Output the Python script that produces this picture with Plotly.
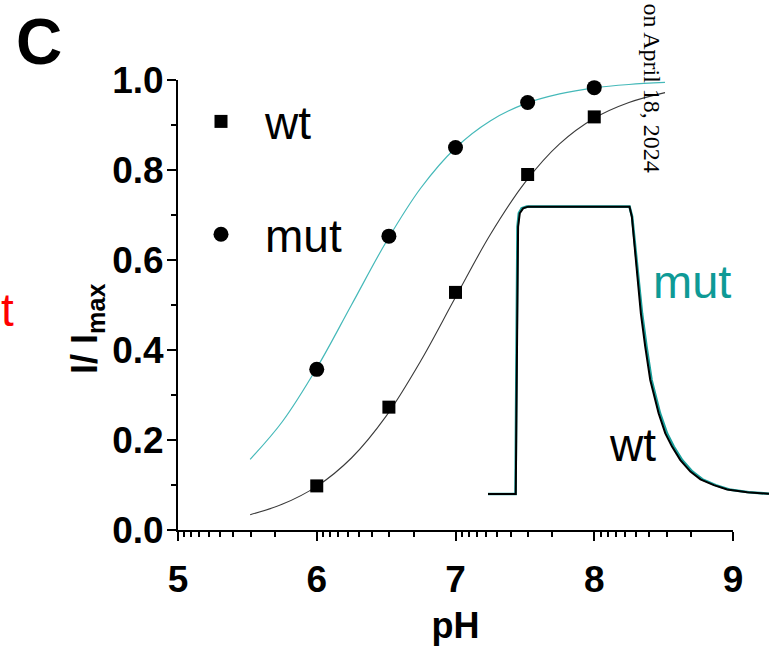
import math
import plotly.graph_objects as go

# ---- data ----
ph_points = [6.0, 6.52, 7.0, 7.52, 8.0]
wt_values = [0.098, 0.273, 0.528, 0.790, 0.918]
mut_values = [0.357, 0.653, 0.850, 0.950, 0.983]

ph_curve = [5.52, 5.75, 6.0, 6.25, 6.5, 6.75, 7.0, 7.25, 7.5, 7.75, 8.0, 8.25, 8.51]
wt_curve = [0.034, 0.057, 0.097, 0.160, 0.253, 0.376, 0.517, 0.656, 0.772, 0.858, 0.915, 0.950, 0.972]
mut_curve = [0.157, 0.240, 0.360, 0.500, 0.640, 0.760, 0.849, 0.909, 0.947, 0.969, 0.9825, 0.990, 0.9945]

# inset current traces (time in arbitrary units, current normalised to plateau)
trace_t_wt = [0, 9.88, 10.12, 10.36, 10.71, 11.31, 12.5, 14.29, 50.36, 51.19, 52.02, 53.21, 54.40,
              55.95, 57.74, 60.71, 63.10, 65.48, 68.45, 72.02, 75.60, 80.36, 85.12, 92.26, 100]
trace_i_wt = [0, 0, 0.281, 0.745, 0.930, 0.977, 0.994, 1.0, 1.0, 0.965, 0.884, 0.745, 0.629,
              0.513, 0.397, 0.281, 0.211, 0.165, 0.118, 0.078, 0.051, 0.031, 0.016, 0.006, 0.001]
trace_t_mut = [0, 9.80, 10.00, 10.20, 10.50, 11.00, 12.0, 13.8, 50.36, 51.3, 52.2, 53.5, 54.8,
               56.4, 58.2, 61.2, 63.7, 66.1, 69.1, 72.7, 76.3, 81.0, 85.8, 92.8, 100]
trace_i_mut = [0, 0, 0.281, 0.745, 0.930, 0.977, 0.994, 1.0, 1.0, 0.965, 0.884, 0.745, 0.629,
               0.513, 0.397, 0.281, 0.211, 0.165, 0.118, 0.078, 0.051, 0.031, 0.016, 0.006, 0.001]

y_ticks = [0.0, 0.2, 0.4, 0.6, 0.8, 1.0]
y_ticklabels = ["0.0", "0.2", "0.4", "0.6", "0.8", "1.0"]
x_ticks = [5, 6, 7, 8, 9]
x_minor = [n + 1 - math.log10(k) for n in range(5, 9) for k in range(2, 10)]

TEAL_LINE = "#45B9B9"
TEAL_TRACE = "#1AA09C"
TEAL_TEXT = "#0E9A96"
FONT = "Liberation Sans"

fig = go.Figure()

# fitted curves
fig.add_trace(go.Scatter(x=ph_curve, y=mut_curve, mode="lines", line=dict(color=TEAL_LINE, width=1.2, shape="spline"),
                         showlegend=False, hoverinfo="skip"))
fig.add_trace(go.Scatter(x=ph_curve, y=wt_curve, mode="lines", line=dict(color="#3a3a3a", width=1.1, shape="spline"),
                         showlegend=False, hoverinfo="skip"))
# data points
fig.add_trace(go.Scatter(x=ph_points, y=wt_values, mode="markers", name="wt", legendgroup="a",
                         marker=dict(symbol="square", size=13, color="black"), cliponaxis=False))
fig.add_trace(go.Scatter(x=ph_points, y=mut_values, mode="markers", name="mut", legendgroup="b",
                         marker=dict(symbol="circle", size=15, color="black"), cliponaxis=False))

# inset traces
fig.add_trace(go.Scatter(x=trace_t_mut, y=trace_i_mut, mode="lines", xaxis="x2", yaxis="y2",
                         line=dict(color=TEAL_TRACE, width=2.6), showlegend=False, hoverinfo="skip"))
fig.add_trace(go.Scatter(x=trace_t_wt, y=trace_i_wt, mode="lines", xaxis="x2", yaxis="y2",
                         line=dict(color="black", width=2.0), showlegend=False, hoverinfo="skip"))

tickfont = dict(family=FONT, size=37, color="black", weight="bold")

fig.update_layout(
    width=769, height=646,
    margin=dict(l=178, r=0, t=80, b=116, autoexpand=False),
    paper_bgcolor="white", plot_bgcolor="rgba(0,0,0,0)",
    showlegend=True,
    legend=dict(x=(177 - 178) / 591, y=(530 - 85) / 450, xanchor="left", yanchor="top",
                font=dict(family=FONT, size=46, color="black"),
                bgcolor="rgba(0,0,0,0)", tracegroupgap=50, itemwidth=78),
    xaxis=dict(domain=[0, 555 / 591], range=[5, 9], tickmode="array", tickvals=x_ticks,
               ticks="outside", ticklen=9, tickwidth=2, tickcolor="black", automargin=False,
               showline=True, linewidth=2, linecolor="black", showgrid=False, zeroline=False,
               tickfont=tickfont, ticklabelstandoff=7,
               minor=dict(tickmode="array", tickvals=x_minor, ticks="outside", ticklen=5, tickwidth=1.5,
                          tickcolor="black", showgrid=False),
               title=dict(text="pH", font=dict(family=FONT, size=36, color="black", weight="bold"), standoff=14)),
    yaxis=dict(domain=[0, 1], range=[0, 1.0], tickmode="array", tickvals=y_ticks, ticktext=y_ticklabels,
               ticks="outside", ticklen=9, tickwidth=2, tickcolor="black", automargin=False,
               showline=True, linewidth=2, linecolor="black", showgrid=False, zeroline=False,
               tickfont=tickfont, ticklabelstandoff=-4,
               minor=dict(dtick=0.1, tick0=0, ticks="outside", ticklen=5, tickwidth=1.5, tickcolor="black",
                          showgrid=False)),
    xaxis2=dict(domain=[(488 - 178) / 591, 1.0], range=[0, 100], visible=False, anchor="y2"),
    yaxis2=dict(domain=[(530 - 508.4) / 450, (530 - 192.3) / 450], range=[-0.05, 1.05], visible=False, anchor="x2"),
)

annotations = [
    dict(text="C", xref="paper", yref="paper", x=(14 - 178) / 591, y=(530 - 4) / 450, xanchor="left", yanchor="top",
         showarrow=False, font=dict(family=FONT, size=64, color="black", weight="bold")),
    dict(text="I/ I<sub>max</sub>", xref="paper", yref="paper", x=(87 - 178) / 591, y=(530 - 329) / 450,
         xanchor="center", yanchor="middle", textangle=-90, showarrow=False,
         font=dict(family=FONT, size=36, color="black", weight="bold")),
    dict(text="mut", xref="x2", yref="y2", x=58, y=0.74, xanchor="left", yanchor="middle", showarrow=False,
         font=dict(family=FONT, size=47, color=TEAL_TEXT)),
    dict(text="wt", xref="x2", yref="y2", x=42.5, y=0.17, xanchor="left", yanchor="middle", showarrow=False,
         font=dict(family=FONT, size=46, color="black")),
    dict(text="t", xref="paper", yref="paper", x=(16 - 178) / 591, y=(530 - 310) / 450, xanchor="right",
         yanchor="middle", showarrow=False, font=dict(family=FONT, size=46, color="red")),
    dict(text="on April 18, 2024", xref="paper", yref="paper", x=(652 - 178) / 591, y=(530 - 1) / 450,
         xanchor="center", yanchor="top", textangle=90, showarrow=False,
         font=dict(family="Liberation Serif", size=24, color="black")),
]
fig.update_layout(annotations=annotations)

fig.write_html("out.html", config={"displayModeBar": False},
               post_script="document.body.style.margin='0px';document.body.style.padding='0px';")
